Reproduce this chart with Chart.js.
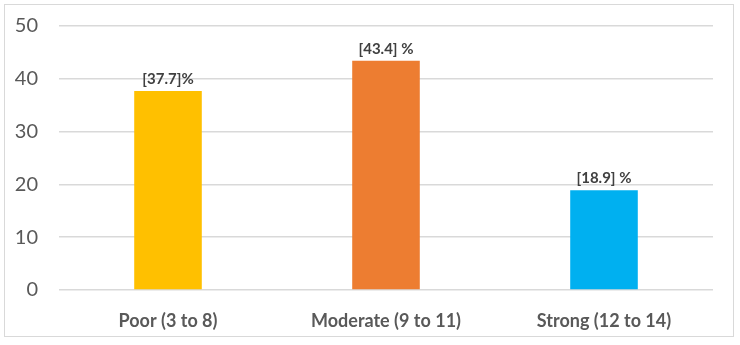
<!DOCTYPE html>
<html>
<head>
<meta charset="utf-8">
<script src="https://cdn.jsdelivr.net/npm/chart.js@4"></script>
<style>
  body { margin: 0; background: #fff; }
  #box { position: absolute; left: 4px; top: 4px; width: 728px; height: 331px; border: 1px solid #d9d9d9; }
</style>
</head>
<body>
<div id="box"><canvas id="myChart"></canvas></div>
<script>
const categories = ['Poor (3 to 8)', 'Moderate (9 to 11)', 'Strong (12 to 14)'];
const percentages = [37.7, 43.4, 18.9];
const valueLabels = ['[37.7]%', '[43.4] %', '[18.9] %'];
const barColors = ['#FFC000', '#ED7D31', '#00B0F0'];
const yTicks = [0, 10, 20, 30, 40, 50];

// draws the bracketed labels above each bar
const barLabels = {
  id: 'barLabels',
  afterDatasetsDraw(chart) {
    const ctx = chart.ctx;
    const meta = chart.getDatasetMeta(0);
    ctx.save();
    ctx.font = 'bold 15px Lato';
    ctx.fillStyle = '#404040';
    ctx.textAlign = 'center';
    ctx.textBaseline = 'middle';
    meta.data.forEach((bar, i) => {
      ctx.fillText(valueLabels[i], bar.x, bar.y - 12);
    });
    ctx.restore();
  }
};

function mainEvent() {
  const ctx = document.querySelector('#myChart');
  new Chart(ctx, {
    type: 'bar',
    data: {
      labels: categories,
      datasets: [{
        data: percentages,
        backgroundColor: barColors,
        categoryPercentage: 1,
        barPercentage: 0.31
      }]
    },
    options: {
      responsive: true,
      maintainAspectRatio: false,
      animation: false,
      layout: { padding: { top: 21, right: 20, left: 0, bottom: 0 } },
      plugins: { legend: { display: false }, tooltip: { enabled: false } },
      scales: {
        x: {
          grid: { display: false },
          border: { display: false },
          ticks: { color: '#595959', font: { family: 'Lato', size: 18, weight: 'bold' }, padding: 12 },
          afterFit(scale) { scale.height = 46; }
        },
        y: {
          min: 0,
          max: 50,
          afterBuildTicks(scale) { scale.ticks = yTicks.map((v) => ({ value: v })); },
          grid: { color: '#d9d9d9', drawTicks: false, lineWidth: 1.5 },
          border: { display: false },
          ticks: { color: '#595959', font: { family: 'Lato', size: 20 }, padding: 21 },
          afterFit(scale) {
            scale.width = 54;
            scale.paddingTop = 0;
            scale.paddingBottom = 0;
          }
        }
      }
    },
    plugins: [barLabels]
  });
}

document.addEventListener('DOMContentLoaded', () => mainEvent());
</script>
</body>
</html>
